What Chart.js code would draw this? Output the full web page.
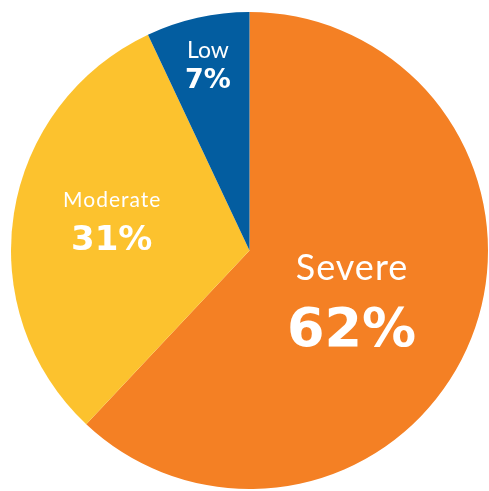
<!DOCTYPE html>
<html>
<head>
<meta charset="utf-8">
<script src="https://cdn.jsdelivr.net/npm/chart.js@4.4.1/dist/chart.umd.min.js"></script>
<style>
  html, body { margin: 0; padding: 0; background: #fff; }
  canvas { display: block; }
</style>
</head>
<body>
<canvas id="pie" width="489" height="491"></canvas>
<script>
// chart data
const categories = ['Severe', 'Moderate', 'Low'];
const shares = [62, 31, 7]; // percent
const sliceColors = ['#F48024', '#FCC22E', '#035DA0'];

// label layout per slice: distance from centre (fraction of radius),
// then line centre offsets, font sizes and spacing for the name and the percent
const labelStyle = [
  { f: 0.46, nameDy: -24, pctDy: 36, nameSize: 36, nameSp: 1, pctSize: 54 },
  { f: 0.585, nameDy: -29, pctDy: 9, nameSize: 21, nameSp: 1, pctSize: 34 },
  { f: 0.80, nameDy: -15, pctDy: 14, nameSize: 23, nameSp: 0, pctSize: 27 }
];

// draws the name + percent inside each slice
const sliceLabels = {
  id: 'sliceLabels',
  afterDatasetsDraw(chart) {
    const ctx = chart.ctx;
    const meta = chart.getDatasetMeta(0);
    meta.data.forEach((arc, i) => {
      const s = labelStyle[i];
      const mid = (arc.startAngle + arc.endAngle) / 2;
      const r = arc.outerRadius * s.f;
      const x = arc.x + Math.cos(mid) * r;
      const y = arc.y + Math.sin(mid) * r;
      ctx.save();
      ctx.fillStyle = '#fff';
      ctx.textAlign = 'center';
      ctx.textBaseline = 'alphabetic';
      ctx.letterSpacing = s.nameSp + 'px';
      ctx.font = '400 ' + s.nameSize + 'px Lato';
      ctx.fillText(categories[i], x + s.nameSp / 2, y + s.nameDy + s.nameSize * 0.36);
      ctx.letterSpacing = '0px';
      ctx.font = 'bold ' + s.pctSize + 'px "DejaVu Sans"';
      ctx.fillText(shares[i] + '%', x, y + s.pctDy + s.pctSize * 0.36);
      ctx.restore();
    });
  }
};

const ctxPie = document.getElementById('pie').getContext('2d');
new Chart(ctxPie, {
  type: 'pie',
  data: {
    labels: categories,
    datasets: [{
      data: shares,
      backgroundColor: sliceColors,
      borderWidth: 0
    }]
  },
  options: {
    responsive: false,
    animation: false,
    layout: { padding: { left: 11, right: 1, top: 12, bottom: 2 } },
    plugins: {
      legend: { display: false },
      tooltip: { enabled: false }
    }
  },
  plugins: [sliceLabels]
});
</script>
</body>
</html>
